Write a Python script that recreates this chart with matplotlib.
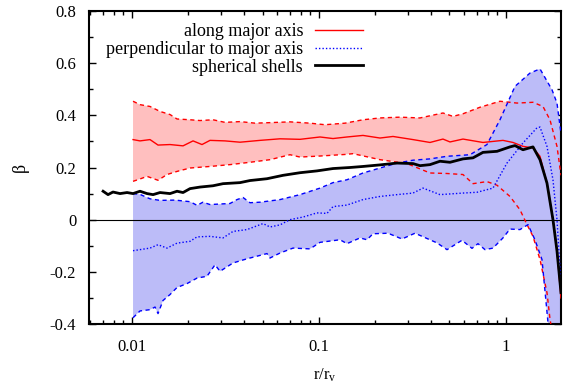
import numpy as np
import matplotlib
matplotlib.use("Agg")
import matplotlib.pyplot as plt
from matplotlib.ticker import FixedLocator, FixedFormatter, LogLocator, NullFormatter

# ---------------- data ----------------
# along major axis: upper / lower bounds and median
red_up_x = [0.01015, 0.01106, 0.01251, 0.01415, 0.01601, 0.01745, 0.02048, 0.02316, 0.02718, 0.03151,
            0.03790, 0.04559, 0.05483, 0.07015, 0.08975, 0.1079, 0.1381, 0.1723, 0.2125, 0.2718,
            0.3477, 0.4614, 0.5219, 0.5904, 0.7278, 0.9311, 1.148, 1.398, 1.581, 1.723, 1.879, 1.974]
red_up_y = [0.454, 0.441, 0.434, 0.415, 0.403, 0.386, 0.383, 0.38, 0.383, 0.373,
            0.376, 0.37, 0.372, 0.375, 0.37, 0.364, 0.37, 0.383, 0.39, 0.393,
            0.39, 0.409, 0.396, 0.406, 0.431, 0.454, 0.447, 0.45, 0.434, 0.383, 0.281, 0.17]

red_lo_x = [0.01015, 0.01106, 0.01206, 0.01381, 0.01542, 0.01745, 0.02048, 0.02619, 0.03350, 0.04286,
            0.05483, 0.07015, 0.07933, 0.1015, 0.1381, 0.1524, 0.2125, 0.2963, 0.3933, 0.4850,
            0.5904, 0.6679, 0.7933, 0.8975, 1.053, 1.191, 1.299, 1.398, 1.524, 1.661, 1.723, 1.788, 1.974]
red_lo_y = [0.147, 0.156, 0.166, 0.151, 0.173, 0.185, 0.198, 0.204, 0.211, 0.22,
            0.23, 0.249, 0.24, 0.244, 0.25, 0.253, 0.23, 0.215, 0.179, 0.177,
            0.173, 0.138, 0.146, 0.132, 0.089, 0.038, -0.019, -0.064, -0.153, -0.28, -0.38, -0.45, -0.6]

red_mid_x = [0.01015, 0.01106, 0.01251, 0.01381, 0.01601, 0.01879, 0.02125, 0.02373, 0.02619, 0.03151,
             0.03790, 0.04850, 0.06201, 0.07933, 0.1015, 0.1191, 0.1415, 0.1723, 0.2125, 0.2494,
             0.3190, 0.3933, 0.4614, 0.5031, 0.5904, 0.7550, 0.9661, 1.093, 1.236, 1.398,
             1.524, 1.661, 1.788, 1.879, 1.974]
red_mid_y = [0.307, 0.302, 0.307, 0.286, 0.288, 0.283, 0.302, 0.288, 0.304, 0.302,
             0.297, 0.304, 0.31, 0.308, 0.317, 0.311, 0.317, 0.323, 0.313, 0.319,
             0.307, 0.296, 0.309, 0.298, 0.309, 0.296, 0.304, 0.296, 0.281, 0.275,
             0.243, 0.14, 0.0, -0.12, -0.3]

# perpendicular to major axis
blue_up_x = [0.01015, 0.01106, 0.01251, 0.01415, 0.01702, 0.02048, 0.02232, 0.02402, 0.02619, 0.03350,
             0.03653, 0.03933, 0.04286, 0.04850, 0.06201, 0.07933, 0.1015, 0.1191, 0.1415, 0.1723,
             0.2125, 0.2620, 0.3190, 0.3933, 0.4850, 0.6437, 0.7933, 0.9311, 1.120, 1.347,
             1.524, 1.767, 1.879, 1.974]
blue_up_y = [0.1, 0.097, 0.08, 0.074, 0.075, 0.069, 0.055, 0.067, 0.058, 0.062,
             0.077, 0.085, 0.065, 0.067, 0.077, 0.096, 0.121, 0.142, 0.153, 0.179,
             0.198, 0.217, 0.228, 0.233, 0.243, 0.249, 0.288, 0.383, 0.511, 0.562,
             0.578, 0.498, 0.447, 0.33]

blue_lo_x = [0.01015, 0.01106, 0.01251, 0.01331, 0.01381, 0.01468, 0.01601, 0.01745, 0.01974, 0.02232,
             0.02524, 0.02786, 0.02963, 0.03477, 0.04130, 0.04850, 0.05284, 0.05483, 0.06201, 0.07278,
             0.08975, 0.1015, 0.1299, 0.1415, 0.1661, 0.1810, 0.1949, 0.2345, 0.2786, 0.3269,
             0.4286, 0.4850, 0.5832, 0.6597, 0.7102, 0.7743, 0.8542, 0.9661, 1.053, 1.191,
             1.315, 1.432, 1.562, 1.682, 1.767, 1.974]
blue_lo_y = [-0.376, -0.35, -0.345, -0.335, -0.36, -0.31, -0.287, -0.26, -0.245, -0.224,
             -0.217, -0.173, -0.198, -0.166, -0.15, -0.137, -0.13, -0.147, -0.128, -0.109,
             -0.112, -0.087, -0.077, -0.092, -0.07, -0.077, -0.054, -0.052, -0.074, -0.052,
             -0.089, -0.115, -0.079, -0.11, -0.092, -0.115, -0.109, -0.07, -0.036, -0.038,
             -0.019, -0.077, -0.153, -0.395, -0.6, -0.9]

blue_mid_x = [0.01015, 0.01251, 0.01381, 0.01542, 0.01745, 0.02048, 0.02232, 0.02619, 0.03074, 0.03477,
              0.04130, 0.05031, 0.05483, 0.06201, 0.07015, 0.08231, 0.09781, 0.1106, 0.1191, 0.1415,
              0.1723, 0.2125, 0.2620, 0.3190, 0.3608, 0.4447, 0.5904, 0.7015, 0.7933, 0.8542,
              1.015, 1.236, 1.468, 1.524, 1.661, 1.788, 1.879, 1.974]
blue_mid_y = [-0.119, -0.109, -0.096, -0.109, -0.09, -0.083, -0.066, -0.064, -0.07, -0.045,
              -0.038, -0.015, -0.028, -0.02, 0.0, 0.01, 0.026, 0.024, 0.05, 0.056,
              0.077, 0.089, 0.096, 0.102, 0.121, 0.096, 0.102, 0.105, 0.115, 0.121,
              0.217, 0.294, 0.352, 0.355, 0.281, 0.153, 0.0, -0.25]

# spherical shells
shell_x = [0.00702, 0.00746, 0.00793, 0.00865, 0.00943, 0.01015, 0.01106, 0.01206, 0.01299, 0.01415,
           0.01601, 0.01745, 0.01879, 0.02048, 0.02316, 0.02718, 0.03074, 0.03790, 0.04286, 0.05284,
           0.06437, 0.07933, 0.09781, 0.1191, 0.1468, 0.1723, 0.2125, 0.2620, 0.3190, 0.3477,
           0.3933, 0.4447, 0.5031, 0.5904, 0.6679, 0.7550, 0.8975, 1.053, 1.120, 1.236,
           1.398, 1.524, 1.661, 1.788, 1.879, 1.974]
shell_y = [0.109, 0.096, 0.106, 0.1, 0.104, 0.1, 0.109, 0.1, 0.096, 0.104,
           0.1, 0.109, 0.104, 0.119, 0.125, 0.13, 0.138, 0.142, 0.15, 0.157,
           0.17, 0.18, 0.187, 0.196, 0.2, 0.204, 0.21, 0.217, 0.215, 0.207,
           0.211, 0.224, 0.22, 0.233, 0.237, 0.258, 0.262, 0.279, 0.284, 0.268,
           0.279, 0.23, 0.14, 0.0, -0.12, -0.28]

labels = ["along major axis", "perpendicular to major axis", "spherical shells"]
yticks = [-0.4, -0.2, 0, 0.2, 0.4, 0.6, 0.8]
ytick_labels = ["-0.4", "-0.2", "0", "0.2", "0.4", "0.6", "0.8"]
xticks = [0.01, 0.1, 1]
xtick_labels = ["0.01", "0.1", "1"]

# ---------------- style ----------------
plt.rcParams['font.family'] = ['Liberation Serif', 'DejaVu Serif']
plt.rcParams['mathtext.fontset'] = 'custom'
plt.rcParams['mathtext.rm'] = 'Liberation Serif'
plt.rcParams['mathtext.it'] = 'Liberation Serif:italic'
plt.rcParams['font.size'] = 12

fig = plt.figure(figsize=(5.63, 3.86), dpi=100)
ax = fig.add_axes([88.7 / 563, 62 / 386, (561 - 88.7) / 563, (324 - 11) / 386])

red_fill = '#ffbfbf'
blue_fill = '#bcbcf8'

ax.fill(np.concatenate([red_up_x, red_lo_x[::-1]]), np.concatenate([red_up_y, red_lo_y[::-1]]),
        color=red_fill, lw=0, zorder=1)
ax.fill(np.concatenate([blue_up_x, blue_lo_x[::-1]]), np.concatenate([blue_up_y, blue_lo_y[::-1]]),
        color=blue_fill, lw=0, zorder=2)

ax.axhline(0, color='black', lw=0.8, zorder=3)

ax.plot(red_up_x, red_up_y, color='red', lw=1.0, ls=(0, (3, 2.5)), zorder=4)
ax.plot(red_lo_x, red_lo_y, color='red', lw=1.0, ls=(0, (3, 2.5)), zorder=4)
ax.plot(blue_up_x, blue_up_y, color='blue', lw=1.0, ls=(0, (3, 2.5)), zorder=4)
ax.plot(blue_lo_x, blue_lo_y, color='blue', lw=1.0, ls=(0, (3, 2.5)), zorder=4)

h1, = ax.plot(red_mid_x, red_mid_y, color='red', lw=1.0, zorder=5, label=labels[0])
h2, = ax.plot(blue_mid_x, blue_mid_y, color='blue', lw=1.0, ls=(0, (1, 1.5)), zorder=5, label=labels[1])
h3, = ax.plot(shell_x, shell_y, color='black', lw=2.0, zorder=6, label=labels[2])

ax.set_xscale('log')
ax.set_xlim(0.00588, 1.974)
ax.set_ylim(-0.4, 0.8)

ax.yaxis.set_major_locator(FixedLocator(yticks))
ax.yaxis.set_major_formatter(FixedFormatter(ytick_labels))
ax.yaxis.set_minor_locator(FixedLocator([-0.3, -0.1, 0.1, 0.3, 0.5, 0.7]))
ax.xaxis.set_major_locator(FixedLocator(xticks))
ax.xaxis.set_major_formatter(FixedFormatter(xtick_labels))
ax.xaxis.set_minor_locator(LogLocator(base=10, subs=np.arange(2, 10)))
ax.xaxis.set_minor_formatter(NullFormatter())

ax.tick_params(which='both', direction='in', top=True, right=True, width=1.0, labelsize=12)
ax.tick_params(which='major', length=5)
ax.tick_params(which='minor', length=3)
ax.tick_params(axis='x', which='major', pad=11)
ax.tick_params(axis='y', which='major', pad=9)
for s in ax.spines.values():
    s.set_linewidth(1.5)

ax.set_xlabel(r'r/r$_\mathrm{v}$', fontsize=12, labelpad=8)
ax.set_ylabel('β', fontsize=13, labelpad=15)

leg = ax.legend(handles=[h1, h2, h3], loc='upper right', bbox_to_anchor=(363 / 563, (386 - 23) / 386),
                bbox_transform=fig.transFigure, frameon=False, markerfirst=False,
                handlelength=2.66, handletextpad=0.66, labelspacing=0.05, borderpad=0, borderaxespad=0,
                fontsize=13)

fig.savefig('out.png', dpi=100)
